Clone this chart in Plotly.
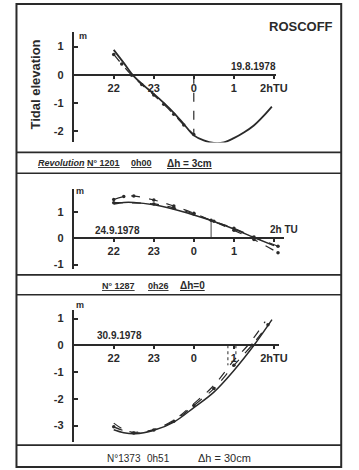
import plotly.graph_objects as go

W, H = 359, 470

# ---------------- data (hours relative to 0h TU; 22h = -2, 23h = -1) -------------
tick_vals = [-2, -1, 0, 1, 2]
tick_text_1 = ["22", "23", "0", "1", "2hTU"]
tick_text_2 = ["22", "23", "0", "1", ""]
tick_text_3 = ["22", "23", "0", "1", "2hTU"]
y_ticks_1 = [1, 0, -1, -2]
y_ticks_2 = [1, 0, -1]
y_ticks_3 = [1, 0, -1, -2, -3]

# Panel 1 : 19.8.1978
p1_pred_h = [-2.0, -1.75, -1.5, -1.25, -1.0, -0.75, -0.5, -0.25, 0.0, 0.25, 0.5, 0.75, 1.0, 1.25, 1.5, 1.75, 1.95]
p1_pred_v = [0.88, 0.42, -0.05, -0.38, -0.68, -1.0, -1.35, -1.75, -2.15, -2.33, -2.42, -2.40, -2.25, -2.05, -1.8, -1.45, -1.13]
p1_obs_h = [-2.0, -1.8, -1.55, -1.3, -1.0, -0.75, -0.5, -0.25, 0.0]
p1_obs_v = [0.72, 0.38, -0.02, -0.35, -0.72, -1.05, -1.4, -1.78, -2.12]
p1_vline_h = [0.0, 0.0]
p1_vline_v = [0.0, -2.15]

# Panel 2 : 24.9.1978
p2_pred_h = [-2.0, -1.75, -1.5, -1.0, -0.5, 0.0, 0.43, 1.0, 1.5, 2.0]
p2_pred_v = [1.30, 1.36, 1.36, 1.27, 1.10, 0.88, 0.67, 0.35, 0.03, -0.28]
p2_obsA_h = [-2.0, -1.75, -1.5, -1.0, -0.5, 0.0, 0.43, 1.0, 1.5, 2.1]
p2_obsA_v = [1.47, 1.58, 1.60, 1.45, 1.22, 0.95, 0.68, 0.30, -0.05, -0.55]
p2_obsB_h = [-2.0, -1.0, -0.5, 0.0, 0.5, 1.0, 1.5, 2.1]
p2_obsB_v = [1.35, 1.30, 1.15, 0.92, 0.64, 0.38, 0.05, -0.30]
p2_vline_h = [0.43, 0.43]
p2_vline_v = [0.0, 0.67]

# Panel 3 : 30.9.1978
p3_pred_h = [-2.0, -1.75, -1.47, -1.0, -0.5, 0.0, 0.5, 1.0, 1.5, 1.95]
p3_pred_v = [-3.16, -3.27, -3.31, -3.18, -2.87, -2.33, -1.75, -0.94, 0.0, 0.96]
p3_obsA_h = [-2.0, -1.75, -1.5, -1.0, -0.5, 0.0, 0.5, 1.0, 1.35, 1.78]
p3_obsA_v = [-2.91, -3.15, -3.25, -3.15, -2.8, -2.18, -1.5, -0.56, 0.0, 0.88]
p3_obsB_h = [-2.0, -1.5, -1.0, -0.5, 0.0, 0.5, 1.0, 1.45, 1.85]
p3_obsB_v = [-3.05, -3.28, -3.17, -2.84, -2.25, -1.62, -0.75, 0.0, 0.77]
p3_vline1_h = [0.85, 0.85]
p3_vline1_v = [0.0, -0.75]
p3_vline2_h = [1.05, 1.05]
p3_vline2_v = [0.0, -0.45]

# ---------------- layout helpers ----------------
def px(x):
    return x / W

def py(y):
    return 1 - y / H

INK = "#2a2a2a"
FONT = "Liberation Sans"

fig = go.Figure()

def line(xs, ys, ax, dash="solid", width=1.6, markers=False):
    fig.add_trace(go.Scatter(
        x=xs, y=ys, xaxis=ax[0], yaxis=ax[1],
        mode="lines+markers" if markers else "lines",
        line=dict(color=INK, width=width, dash=dash, shape="spline"),
        marker=dict(size=3.5, color=INK),
        showlegend=False, hoverinfo="skip"))

# Panel 1
line(p1_pred_h, p1_pred_v, ("x", "y"), width=1.8)
line(p1_obs_h, p1_obs_v, ("x", "y"), dash="dash", width=1.3, markers=True)
line(p1_vline_h, p1_vline_v, ("x", "y"), dash="dash", width=1.2)
# Panel 2
line(p2_pred_h, p2_pred_v, ("x2", "y2"), width=1.5)
line(p2_obsA_h, p2_obsA_v, ("x2", "y2"), dash="dash", width=1.2, markers=True)
line(p2_obsB_h, p2_obsB_v, ("x2", "y2"), dash="dash", width=1.2, markers=True)
line(p2_vline_h, p2_vline_v, ("x2", "y2"), width=0.9)
# Panel 3
line(p3_pred_h, p3_pred_v, ("x3", "y3"), width=1.5)
line(p3_obsA_h, p3_obsA_v, ("x3", "y3"), dash="dash", width=1.2)
line(p3_obsB_h, p3_obsB_v, ("x3", "y3"), dash="dash", width=1.2, markers=True)
line(p3_vline1_h, p3_vline1_v, ("x3", "y3"), dash="dot", width=1.0)
line(p3_vline2_h, p3_vline2_v, ("x3", "y3"), dash="dot", width=1.0)

tickfont = dict(family=FONT, size=11, color=INK, weight="bold")

def xaxis(dom_px, rng, zero_px, ticktext):
    return dict(domain=[px(dom_px[0]), px(dom_px[1])], range=rng,
                anchor="free", position=py(zero_px),
                showline=True, linecolor=INK, linewidth=1.8,
                tickmode="array", tickvals=tick_vals, ticktext=ticktext,
                ticks="outside", ticklen=3, tickwidth=1.5, tickcolor=INK,
                tickfont=tickfont, showgrid=False, zeroline=False, fixedrange=True)

def yaxis(dom_px, rng, anchor, ticks):
    return dict(domain=[py(dom_px[1]), py(dom_px[0])], range=rng, anchor=anchor,
                showline=True, linecolor=INK, linewidth=1.8,
                tickmode="array", tickvals=ticks, ticktext=[str(t) for t in ticks],
                ticks="inside", ticklen=4, tickwidth=1.5, tickcolor=INK,
                ticklabelstandoff=6,
                tickfont=tickfont, showgrid=False, zeroline=False, fixedrange=True)

fig.update_layout(
    width=W, height=H, margin=dict(l=0, r=0, t=0, b=0),
    paper_bgcolor="white", plot_bgcolor="rgba(0,0,0,0)",
    xaxis=xaxis((76, 285), [-3.0, 2.06], 75, tick_text_1),
    yaxis=yaxis((32, 143), [-2.40, 1.52], "x", y_ticks_1),
    xaxis2=xaxis((76, 293), [-3.0, 2.25], 239.3, tick_text_2),
    yaxis2=yaxis((190, 270), [-1.16, 1.86], "x2", y_ticks_2),
    xaxis3=xaxis((76, 288), [-3.0, 2.13], 346.7, tick_text_3),
    yaxis3=yaxis((311, 444), [-3.62, 1.33], "x3", y_ticks_3),
)

# frame and separators
shapes = [
    dict(type="rect", xref="paper", yref="paper", x0=px(17), x1=px(352), y0=py(469), y1=py(4),
         line=dict(color=INK, width=2)),
]
for yy in [153, 174, 276, 296, 447]:
    shapes.append(dict(type="line", xref="paper", yref="paper", x0=px(17), x1=px(352),
                       y0=py(yy), y1=py(yy), line=dict(color=INK, width=1.6)))
fig.update_layout(shapes=shapes)

def note(text, x, y, size=10, bold=True, angle=0, xanchor="center"):
    fig.add_annotation(text=text, x=px(x), y=py(y), xref="paper", yref="paper",
                       showarrow=False, textangle=angle, xanchor=xanchor, yanchor="middle",
                       font=dict(family=FONT, size=size, color=INK,
                                 weight="bold" if bold else "normal"))

note("ROSCOFF", 310, 27, size=13)
note("Tidal elevation", 37, 85, size=13, angle=-90)
note("19.8.1978", 262, 67, size=10)
note("24.9.1978", 121, 231, size=10)
note("30.9.1978", 123, 337, size=10)
note("2h TU", 293, 230, size=10)
note("m", 86, 36, size=9)
note("m", 83, 192, size=9)
note("m", 83, 306, size=9)

# captions
note("<u><i>Revolution</i></u>", 63, 164, size=9)
note("<u>N° 1201</u>", 107, 164, size=9)
note("<u>0h00</u>", 146, 164, size=9)
note("<u>Δh = 3cm</u>", 196, 164, size=10)
note("<u>N° 1287</u>", 122, 287, size=9)
note("<u>0h26</u>", 163, 287, size=9)
note("<u>Δh=0</u>", 199, 287, size=10)
note("N°1373", 128, 460, size=10, bold=False)
note("0h51", 164, 460, size=10, bold=False)
note("Δh = 30cm", 232, 460, size=11, bold=False)

fig.write_html("out.html", config={"displayModeBar": False},
               post_script="document.body.style.margin='0';")
